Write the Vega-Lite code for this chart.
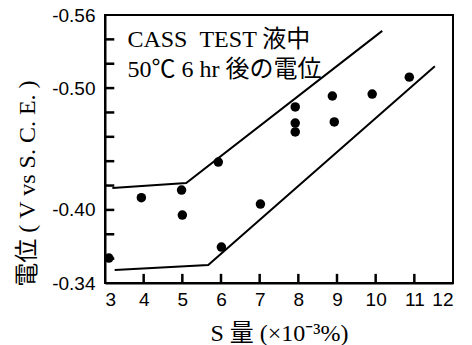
{
  "$schema": "https://vega.github.io/schema/vega-lite/v6.json",
  "width": 348,
  "height": 268,
  "autosize": {"type": "none"},
  "padding": {"left": 105, "top": 15, "right": 19, "bottom": 62},
  "background": "white",
  "config": {
    "view": {"stroke": "black", "strokeWidth": 2},
    "axis": {
      "domainColor": "black", "domainWidth": 2,
      "ticks": false,
      "labelColor": "black", "titleColor": "black",
      "grid": false,
      "labelFont": "Liberation Sans", "labelFontSize": 19,
      "labelOverlap": false,
      "titleFontWeight": "normal"
    }
  },
  "datasets": {
    "pts": [
      {"s": 3.1, "v": -0.3605},
      {"s": 3.94, "v": -0.410},
      {"s": 4.98, "v": -0.4163},
      {"s": 5.0, "v": -0.3958},
      {"s": 5.93, "v": -0.4393},
      {"s": 6.01, "v": -0.3695},
      {"s": 7.02, "v": -0.4048},
      {"s": 7.92, "v": -0.4845},
      {"s": 7.92, "v": -0.4713},
      {"s": 7.92, "v": -0.464},
      {"s": 8.88, "v": -0.4935},
      {"s": 8.93, "v": -0.4722},
      {"s": 9.91, "v": -0.4951},
      {"s": 10.87, "v": -0.509}
    ],
    "lines": [
      {"band": "upper", "s": 3.19, "v": -0.418},
      {"band": "upper", "s": 5.1, "v": -0.422},
      {"band": "upper", "s": 10.17, "v": -0.547},
      {"band": "lower", "s": 3.25, "v": -0.3506},
      {"band": "lower", "s": 5.67, "v": -0.3547},
      {"band": "lower", "s": 11.53, "v": -0.518}
    ],
    "xticks": [
      {"s": 4, "v": -0.34, "v2": -0.3475}, {"s": 5, "v": -0.34, "v2": -0.3475},
      {"s": 6, "v": -0.34, "v2": -0.3475}, {"s": 7, "v": -0.34, "v2": -0.3475},
      {"s": 8, "v": -0.34, "v2": -0.3475}, {"s": 9, "v": -0.34, "v2": -0.3475},
      {"s": 10, "v": -0.34, "v2": -0.3475}, {"s": 11, "v": -0.34, "v2": -0.3475}
    ],
    "yticks": [
      {"s": 3, "s2": 3.24, "v": -0.54}, {"s": 3, "s2": 3.24, "v": -0.52},
      {"s": 3, "s2": 3.24, "v": -0.50}, {"s": 3, "s2": 3.24, "v": -0.48},
      {"s": 3, "s2": 3.24, "v": -0.46}, {"s": 3, "s2": 3.24, "v": -0.44},
      {"s": 3, "s2": 3.24, "v": -0.42}, {"s": 3, "s2": 3.24, "v": -0.40},
      {"s": 3, "s2": 3.24, "v": -0.38}, {"s": 3, "s2": 3.24, "v": -0.36}
    ],
    "notes": [
      {"s": 3.58, "v": -0.5395, "t": "CASS\u00a0\u00a0TEST 液中"},
      {"s": 3.58, "v": -0.5148, "t": "50℃ 6 hr 後の電位"}
    ]
  },
  "encoding": {
    "x": {"field": "s", "type": "quantitative",
      "scale": {"domain": [3, 12], "nice": false, "zero": false},
      "axis": {
        "values": [3, 4, 5, 6, 7, 8, 9, 10, 11, 12],
        "labelOverlap": false, "labelPadding": 7,
        "title": "S 量 (×10⁻³%)",
        "titleFont": "Liberation Serif, Noto Sans CJK JP", "titleFontSize": 24,
        "titlePadding": 12
      }},
    "y": {"field": "v", "type": "quantitative",
      "scale": {"domain": [-0.56, -0.34], "nice": false, "zero": false, "reverse": true},
      "axis": {
        "values": [-0.56, -0.50, -0.40, -0.34],
        "labelExpr": "abs(datum.value + 0.56) < 0.001 ? '-0.56' : abs(datum.value + 0.5) < 0.001 ? '-0.50' : abs(datum.value + 0.4) < 0.001 ? '-0.40' : '-0.34'",
        "labelOverlap": false, "labelPadding": 10,
        "title": "電位 ( V vs S. C. E. )",
        "titleFont": "Liberation Serif, Noto Sans CJK JP", "titleFontSize": 24,
        "titleX": -78, "titleY": 168, "titleBaseline": "middle", "titleAlign": "center"
      }}
  },
  "layer": [
    {
      "data": {"name": "lines"},
      "mark": {"type": "line", "color": "black", "strokeWidth": 2},
      "encoding": {"detail": {"field": "band"}}
    },
    {
      "data": {"name": "xticks"},
      "mark": {"type": "rule", "color": "black", "strokeWidth": 2.5},
      "encoding": {"y2": {"field": "v2"}}
    },
    {
      "data": {"name": "yticks"},
      "mark": {"type": "rule", "color": "black", "strokeWidth": 2.5},
      "encoding": {"x2": {"field": "s2"}}
    },
    {
      "data": {"name": "pts"},
      "mark": {"type": "point", "filled": true, "color": "black", "opacity": 1, "size": 90},
      "encoding": {}
    },
    {
      "data": {"name": "notes"},
      "mark": {"type": "text", "align": "left", "baseline": "middle", "font": "Liberation Serif, Noto Sans CJK JP", "fontSize": 24, "color": "black"},
      "encoding": {"text": {"field": "t"}}
    }
  ]
}
